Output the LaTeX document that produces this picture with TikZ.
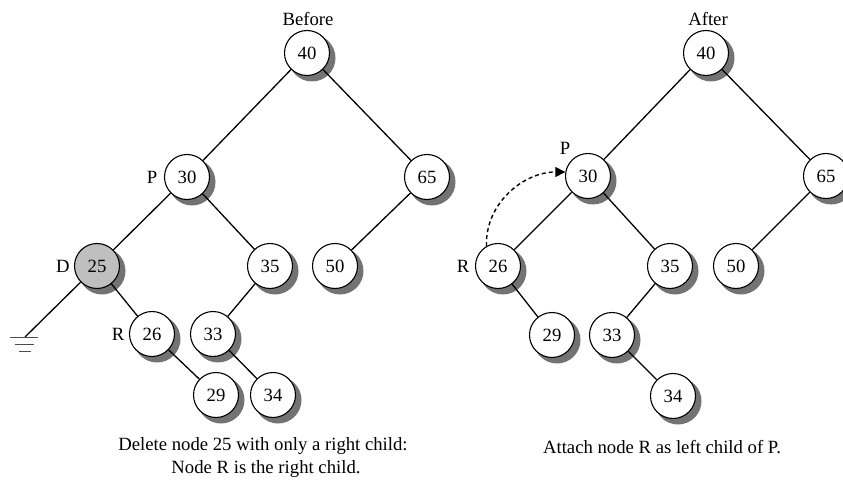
\documentclass[tikz,border=0pt]{standalone}
\usepackage{fontspec}
\setmainfont{Liberation Serif}
\usetikzlibrary{arrows.meta}
\begin{document}
\begin{tikzpicture}[x=1pt,y=-1pt,
  txt/.style={font=\fontsize{18.7}{22}\selectfont},
  tnode/.style={txt,circle,draw,line width=1.1pt,fill=white,minimum size=45pt,inner sep=0pt},
  dnode/.style={tnode,fill=black!25},
  shadowfill/.style={fill=black!55},
  conn/.style={line width=1.3pt},
  lbl/.style={txt,inner sep=0pt}]
\useasboundingbox (0,0) rectangle (843,484);
% ---------- shadows ----------
\fill[shadowfill] (312,58) circle (23.5pt);
\fill[shadowfill] (192,182) circle (23.5pt);
\fill[shadowfill] (432,182) circle (23.5pt);
\fill[shadowfill] (102,271) circle (23.5pt);
\fill[shadowfill] (275,271) circle (23.5pt);
\fill[shadowfill] (340,271) circle (23.5pt);
\fill[shadowfill] (157,339) circle (23.5pt);
\fill[shadowfill] (218,339) circle (23.5pt);
\fill[shadowfill] (221,400) circle (23.5pt);
\fill[shadowfill] (278,400) circle (23.5pt);
\fill[shadowfill] (711,58) circle (23.5pt);
\fill[shadowfill] (593,181) circle (23.5pt);
\fill[shadowfill] (831,181) circle (23.5pt);
\fill[shadowfill] (503,271) circle (23.5pt);
\fill[shadowfill] (675,271) circle (23.5pt);
\fill[shadowfill] (741,271) circle (23.5pt);
\fill[shadowfill] (557,340) circle (23.5pt);
\fill[shadowfill] (617,340) circle (23.5pt);
\fill[shadowfill] (678,401) circle (23.5pt);
% ---------- Before ----------
\node[lbl] (tb) at (308,19) {Before};
\node[tnode] (b40) at (307,53) {40};
\node[tnode] (b30) at (187,177) {30};
\node[tnode] (b65) at (427,177) {65};
\node[dnode] (b25) at (97,266) {25};
\node[tnode] (b35) at (270,266) {35};
\node[tnode] (b50) at (335,266) {50};
\node[tnode] (b26) at (152,334) {26};
\node[tnode] (b33) at (213,334) {33};
\node[tnode] (b29) at (216,395) {29};
\node[tnode] (b34) at (273,395) {34};
\node[lbl] (lp) at (152,177) {P};
\node[lbl] (ld) at (63,266) {D};
\node[lbl] (lr) at (118,334) {R};
\coordinate (gnd) at (25,337);
\draw[conn] (b40) -- (b30);
\draw[conn] (b40) -- (b65);
\draw[conn] (b30) -- (b25);
\draw[conn] (b30) -- (b35);
\draw[conn] (b65) -- (b50);
\draw[conn] (b25) -- (gnd);
\draw[conn] (b25) -- (b26);
\draw[conn] (b26) -- (b29);
\draw[conn] (b35) -- (b33);
\draw[conn] (b33) -- (b34);
\draw[line width=1pt,black!70] (10,337) -- (38,337) (15,344) -- (34,344) (19,351) -- (31,351);
\node[lbl] (cap1) at (263,446) {Delete node 25 with only a right child:};
\node[lbl] (cap2) at (266,469) {Node R is the right child.};
% ---------- After ----------
\node[lbl] (ta) at (708,19) {After};
\node[tnode] (a40) at (706,53) {40};
\node[tnode] (a30) at (588,176) {30};
\node[tnode] (a65) at (826,176) {65};
\node[tnode] (a26) at (498,266) {26};
\node[tnode] (a35) at (670,266) {35};
\node[tnode] (a50) at (736,266) {50};
\node[tnode] (a29) at (552,335) {29};
\node[tnode] (a33) at (612,335) {33};
\node[tnode] (a34) at (673,396) {34};
\node[lbl] (lp2) at (565,148) {P};
\node[lbl] (lr2) at (463,266) {R};
\draw[conn] (a40) -- (a30);
\draw[conn] (a40) -- (a65);
\draw[conn] (a30) -- (a26);
\draw[conn] (a30) -- (a35);
\draw[conn] (a65) -- (a50);
\draw[conn] (a26) -- (a29);
\draw[conn] (a35) -- (a33);
\draw[conn] (a33) -- (a34);
\draw[line width=1.4pt,dash pattern=on 4pt off 3pt,-{Triangle[length=10pt,width=10pt]}]
  (a26.120) to[out=92,in=180] (a30.170);
\node[lbl] (cap3) at (662,447) {Attach node R as left child of P.};
\end{tikzpicture}
\end{document}
